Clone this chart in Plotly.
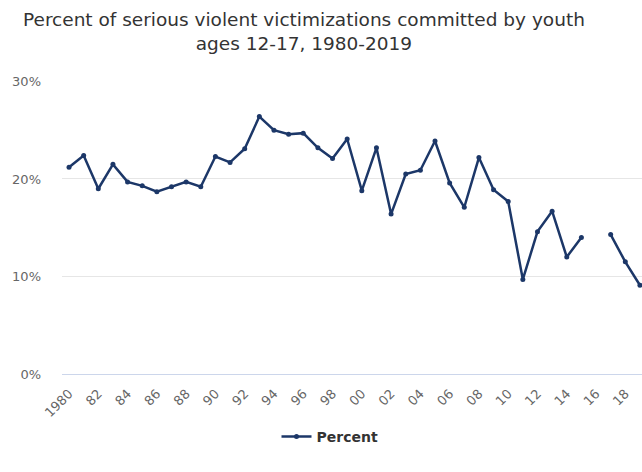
import plotly.graph_objects as go

years = list(range(1980, 2020))
percent = [21.2, 22.4, 19.0, 21.5, 19.7, 19.3, 18.7, 19.2, 19.7, 19.2,
           22.3, 21.7, 23.1, 26.4, 25.0, 24.6, 24.7, 23.2, 22.1, 24.1,
           18.8, 23.2, 16.4, 20.5, 20.9, 23.9, 19.6, 17.1, 22.2, 18.9,
           17.7, 9.7, 14.6, 16.7, 12.0, 14.0, None, 14.3, 11.5, 9.1]
tick_years = list(range(1980, 2020, 2))
tick_labels = ["1980"] + [f"{y % 100:02d}" for y in tick_years[1:]]
y_ticks = [0, 10, 20, 30]
y_labels = ["0%", "10%", "20%", "30%"]
title_text = "Percent of serious violent victimizations committed by youth<br>ages 12-17, 1980-2019"

FONT = "Lucida Grande, DejaVu Sans, sans-serif"
LINE = "#1c3768"

fig = go.Figure()
fig.add_trace(go.Scatter(
    x=years, y=percent, name="Percent", mode="lines+markers",
    line=dict(color=LINE, width=2.5),
    marker=dict(color=LINE, size=5),
    connectgaps=False, cliponaxis=False,
))

fig.add_annotation(
    text=title_text, showarrow=False,
    xref="paper", yref="paper",
    x=(304 - 62) / 580, xanchor="center",
    y=1 + (81 - 7) / 293, yanchor="top",
    align="center",
    font=dict(family=FONT, size=18.5, color="#333333"),
)

fig.update_layout(
    width=642, height=472,
    margin=dict(l=62, r=0, t=81, b=98),
    paper_bgcolor="white", plot_bgcolor="white",
    xaxis=dict(
        range=[1979.52, 2019.14],
        tickmode="array", tickvals=tick_years, ticktext=tick_labels,
        tickangle=-45, showgrid=False, zeroline=False,
        showline=True, linecolor="#ccd6eb", linewidth=1,
        ticks="outside", ticklen=6, tickcolor="rgba(0,0,0,0)",
        tickfont=dict(family=FONT, size=13, color="#666666"),
    ),
    yaxis=dict(
        range=[0, 30.05],
        tickmode="array", tickvals=y_ticks, ticktext=y_labels,
        showgrid=True, gridcolor="#e6e6e6", gridwidth=1,
        zeroline=False, showline=False, ticks="",
        ticklabelstandoff=20,
        tickfont=dict(family=FONT, size=13, color="#666666"),
    ),
    showlegend=True,
    legend=dict(
        orientation="h", xref="container", yref="container",
        x=330 / 642, xanchor="center", y=1 - 437 / 472, yanchor="middle",
        font=dict(family=FONT, size=14, color="#333333", weight="bold"),
        itemwidth=30,
    ),
)

fig.write_html("out.html")
